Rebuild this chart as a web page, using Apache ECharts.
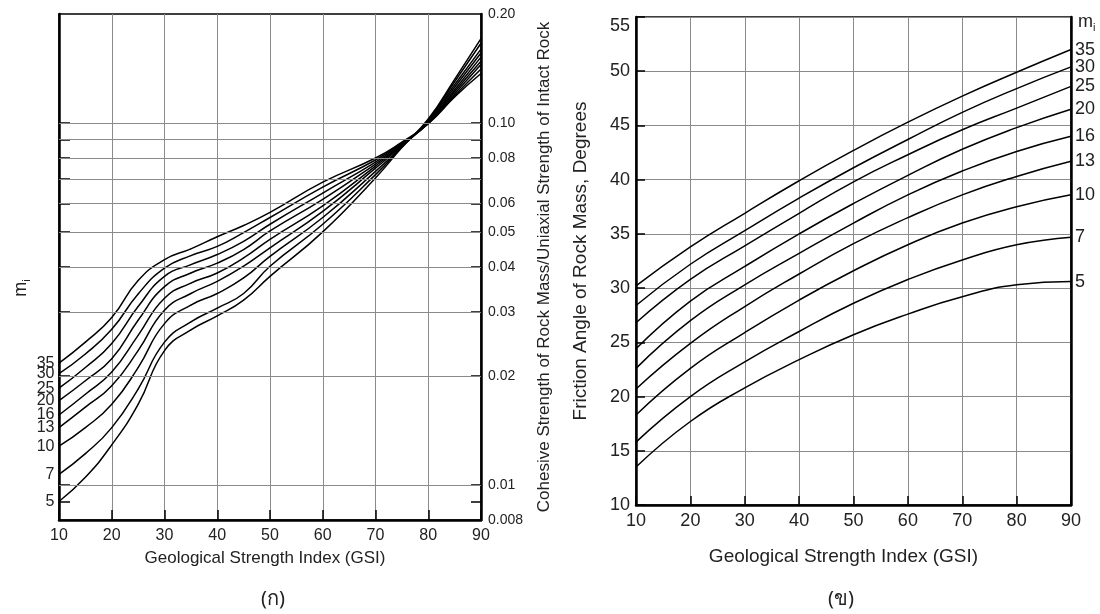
<!DOCTYPE html>
<html><head><meta charset="utf-8">
<script src="https://cdn.jsdelivr.net/npm/echarts@6/dist/echarts.min.js"></script>
<style>html,body{margin:0;padding:0;background:#fff}#c{width:1100px;height:614px}</style>
</head><body><div id="c"></div>
<script>
// ---- data ----
const miNames = ['35','30','25','20','16','13','10','7','5'];
// left chart: cohesive strength ratio vs GSI
const gsiCoh = [10,15,20,25,30,35,40,45,50,60,70,75,80,85,90];
const coh35 = [.0217,.0248,.0290,.0367,.0419,.0449,.0485,.0521,.0566,.0686,.080,.0885,.0995,.118,.137];
const coh30 = [.0203,.0230,.0269,.0337,.0397,.0430,.0456,.0498,.0548,.0665,.079,.0880,.0996,.119,.141];
const coh25 = [.0185,.0211,.0246,.0311,.0377,.0406,.0433,.0471,.0525,.0640,.078,.0875,.0998,.1205,.145];
const coh20 = [.0171,.0194,.0223,.0285,.0353,.0385,.0410,.0447,.0503,.0615,.077,.0870,.1000,.122,.148];
const coh16 = [.0156,.0178,.0205,.0259,.0328,.0361,.0385,.0424,.0477,.0590,.076,.0868,.1005,.1235,.152];
const coh13 = [.0144,.0164,.0188,.0235,.0304,.0338,.0365,.0402,.0452,.0570,.075,.0865,.1010,.1255,.156];
const coh10 = [.0128,.0144,.0167,.0211,.0279,.0314,.0338,.0373,.0428,.0548,.0735,.0860,.1015,.1275,.160];
const coh7  = [.0107,.0122,.0144,.0184,.0248,.0282,.0308,.0338,.0402,.0525,.072,.0858,.1020,.130,.166];
const coh5  = [.0090,.0105,.0129,.0167,.0235,.0268,.0293,.0324,.0377,.0500,.0705,.0855,.1025,.132,.171];
// right chart: friction angle vs GSI
const gsiFric = [10,20,30,40,50,60,70,80,90];
const fric35 = [30.2,33.8,36.9,39.9,42.7,45.3,47.7,49.9,52.0];
const fric30 = [28.4,32.2,35.3,38.3,41.1,43.7,46.2,48.4,50.4];
const fric25 = [26.8,30.8,33.9,36.9,39.8,42.3,44.6,46.6,48.6];
const fric20 = [24.4,28.8,32.0,35.0,37.8,40.4,42.8,44.8,46.5];
const fric16 = [22.6,27.0,30.3,33.2,36.0,38.6,40.8,42.6,44.0];
const fric13 = [20.7,24.9,28.3,31.3,34.1,36.5,38.6,40.3,41.7];
const fric10 = [18.3,22.6,25.9,28.9,31.6,34.0,36.0,37.5,38.6];
const fric7  = [15.8,20.0,23.2,26.0,28.6,30.8,32.6,34.0,34.7];
const fric5  = [13.5,17.7,20.8,23.4,25.7,27.6,29.2,30.3,30.6];
// axis ticks / labels
const cohLabelValues = [0.008,0.01,0.02,0.03,0.04,0.05,0.06,0.08,0.1,0.2];
const cohTickValues = [0.009,0.01,0.02,0.03,0.04,0.05,0.06,0.07,0.08,0.09,0.1];
const cohGridValues = [0.01,0.02,0.03,0.04,0.05,0.06,0.07,0.08,0.09,0.1];

const cohSets = [coh35,coh30,coh25,coh20,coh16,coh13,coh10,coh7,coh5];
const fricSets = [fric35,fric30,fric25,fric20,fric16,fric13,fric10,fric7,fric5];

const FONT = 'Liberation Sans, Arial, sans-serif';
const TXT = '#222';
const GRIDC = '#8a8a8a';
const subRich = {
  m: {fontSize: 18, lineHeight: 22, color: TXT, fontFamily: FONT, fontWeight: 'normal'},
  s: {fontSize: 11, lineHeight: 12, verticalAlign: 'bottom', color: TXT, fontFamily: FONT, fontWeight: 'normal'}
};

const series = [];
cohSets.forEach((arr, k) => {
  const s = {
    name: miNames[k], type: 'line', xAxisIndex: 0, yAxisIndex: 0,
    symbol: 'circle', symbolSize: 1, showSymbol: true, showAllSymbol: true,
    smooth: 0.5, silent: true,
    itemStyle: {color: '#000'},
    lineStyle: {color: '#000', width: 1.5},
    label: {show: false},
    data: gsiCoh.map((g, i) => i === 0 ? {
      value: [g, arr[i]],
      label: {show: true, position: 'left', distance: 4, formatter: miNames[k],
              fontSize: 16, color: TXT, fontFamily: FONT}
    } : [g, arr[i]])
  };
  if (k === 0) {
    s.markLine = {
      silent: true, symbol: ['none', 'none'], label: {show: false},
      lineStyle: {color: GRIDC, width: 1, type: 'solid'},
      data: cohGridValues.map(v => ({yAxis: v}))
    };
  }
  series.push(s);
});
fricSets.forEach((arr, k) => {
  series.push({
    name: miNames[k], type: 'line', xAxisIndex: 1, yAxisIndex: 2,
    symbol: 'none', smooth: 0.5, silent: true,
    lineStyle: {color: '#000', width: 1.5},
    endLabel: {show: true, formatter: '{a}', distance: 4, fontSize: 18, color: TXT, fontFamily: FONT},
    data: gsiFric.map((g, i) => [g, arr[i]])
  });
});

const axisLineBlack = {show: true, onZero: false, lineStyle: {color: '#000', width: 2.5}};

const option = {
  animation: false,
  backgroundColor: '#fff',
  textStyle: {fontFamily: FONT},
  title: [
    {text: '(ก)', left: 256, top: 584, textStyle: {fontSize: 20, fontWeight: 'normal', color: TXT, fontFamily: 'Noto Sans, DejaVu Sans, sans-serif'}},
    {text: '(ข)', left: 823, top: 584, textStyle: {fontSize: 20, fontWeight: 'normal', color: TXT, fontFamily: 'Noto Sans, DejaVu Sans, sans-serif'}},
    {text: '{m|m}{s|i}', left: 1073, top: 6, textStyle: {fontWeight: 'normal', rich: subRich}}
  ],
  grid: [
    {left: 59, top: 14, width: 422, height: 506, show: true, borderColor: '#000', borderWidth: 1.5, backgroundColor: 'transparent'},
    {left: 636, top: 17, width: 435, height: 488, show: true, borderColor: '#000', borderWidth: 1.5, backgroundColor: 'transparent'}
  ],
  xAxis: [
    {gridIndex: 0, type: 'value', min: 10, max: 90, interval: 10,
     name: 'Geological Strength Index (GSI)', nameLocation: 'middle', nameGap: 30,
     nameTextStyle: {fontSize: 17, color: TXT, fontFamily: FONT, padding: [0, 10, 0, 0]},
     axisLine: axisLineBlack,
     axisTick: {inside: true, length: 10, lineStyle: {color: '#000', width: 1.5}},
     axisLabel: {fontSize: 16, color: TXT, margin: 8, fontFamily: FONT},
     splitLine: {show: true, lineStyle: {color: GRIDC, width: 1}}},
    {gridIndex: 1, type: 'value', min: 10, max: 90, interval: 10,
     name: 'Geological Strength Index (GSI)', nameLocation: 'middle', nameGap: 42,
     nameTextStyle: {fontSize: 19, color: TXT, fontFamily: FONT, padding: [0, 20, 0, 0]},
     axisLine: axisLineBlack,
     axisTick: {inside: true, length: 9, lineStyle: {color: '#000', width: 1.5}},
     axisLabel: {fontSize: 18, color: TXT, margin: 7, fontFamily: FONT},
     splitLine: {show: true, lineStyle: {color: GRIDC, width: 1}}}
  ],
  yAxis: [
    {gridIndex: 0, type: 'log', logBase: 10, min: 0.008, max: 0.2, position: 'left',
     name: '{m|m}{s|i}', nameLocation: 'middle', nameRotate: 90, nameGap: 27,
     nameTextStyle: {fontSize: 18, fontWeight: 'normal', rich: subRich, padding: [0, 42, 0, 0]},
     axisLine: axisLineBlack,
     axisTick: {show: true, inside: true, length: 11, customValues: cohTickValues, lineStyle: {color: '#000', width: 1.5}},
     axisLabel: {show: false},
     minorTick: {show: false}, splitLine: {show: false}},
    {gridIndex: 0, type: 'log', logBase: 10, min: 0.008, max: 0.2, position: 'right',
     name: 'Cohesive Strength of Rock Mass/Uniaxial Strength of Intact Rock',
     nameLocation: 'middle', nameRotate: 90, nameGap: 55,
     nameTextStyle: {fontSize: 17, color: TXT, fontFamily: FONT},
     axisLine: axisLineBlack,
     axisTick: {show: true, inside: true, length: 10, customValues: cohTickValues, lineStyle: {color: '#000', width: 1.5}},
     axisLabel: {show: true, customValues: cohLabelValues, fontSize: 14, color: TXT, margin: 7, fontFamily: FONT,
       formatter: v => (Math.abs(v - 0.2) < 1e-9 ? '0.20' : Math.abs(v - 0.1) < 1e-9 ? '0.10' : String(+v.toPrecision(3)))},
     splitLine: {show: false}},
    {gridIndex: 1, type: 'value', min: 10, max: 55, interval: 5, position: 'left',
     name: 'Friction Angle of Rock Mass, Degrees', nameLocation: 'middle', nameRotate: 90, nameGap: 46,
     nameTextStyle: {fontSize: 19, color: TXT, fontFamily: FONT},
     axisLine: axisLineBlack,
     axisTick: {inside: true, length: 9, lineStyle: {color: '#000', width: 1.5}},
     axisLabel: {fontSize: 18, color: TXT, margin: 6, fontFamily: FONT, verticalAlignMaxLabel: 'top'},
     splitLine: {show: true, lineStyle: {color: GRIDC, width: 1}}},
    {gridIndex: 1, type: 'value', min: 10, max: 55, interval: 5, position: 'right',
     axisLine: axisLineBlack, axisTick: {show: false}, axisLabel: {show: false}, splitLine: {show: false}}
  ],
  series: series
};
const chart = echarts.init(document.getElementById('c'), null, {renderer: 'canvas'});
chart.setOption(option);
</script></body></html>
